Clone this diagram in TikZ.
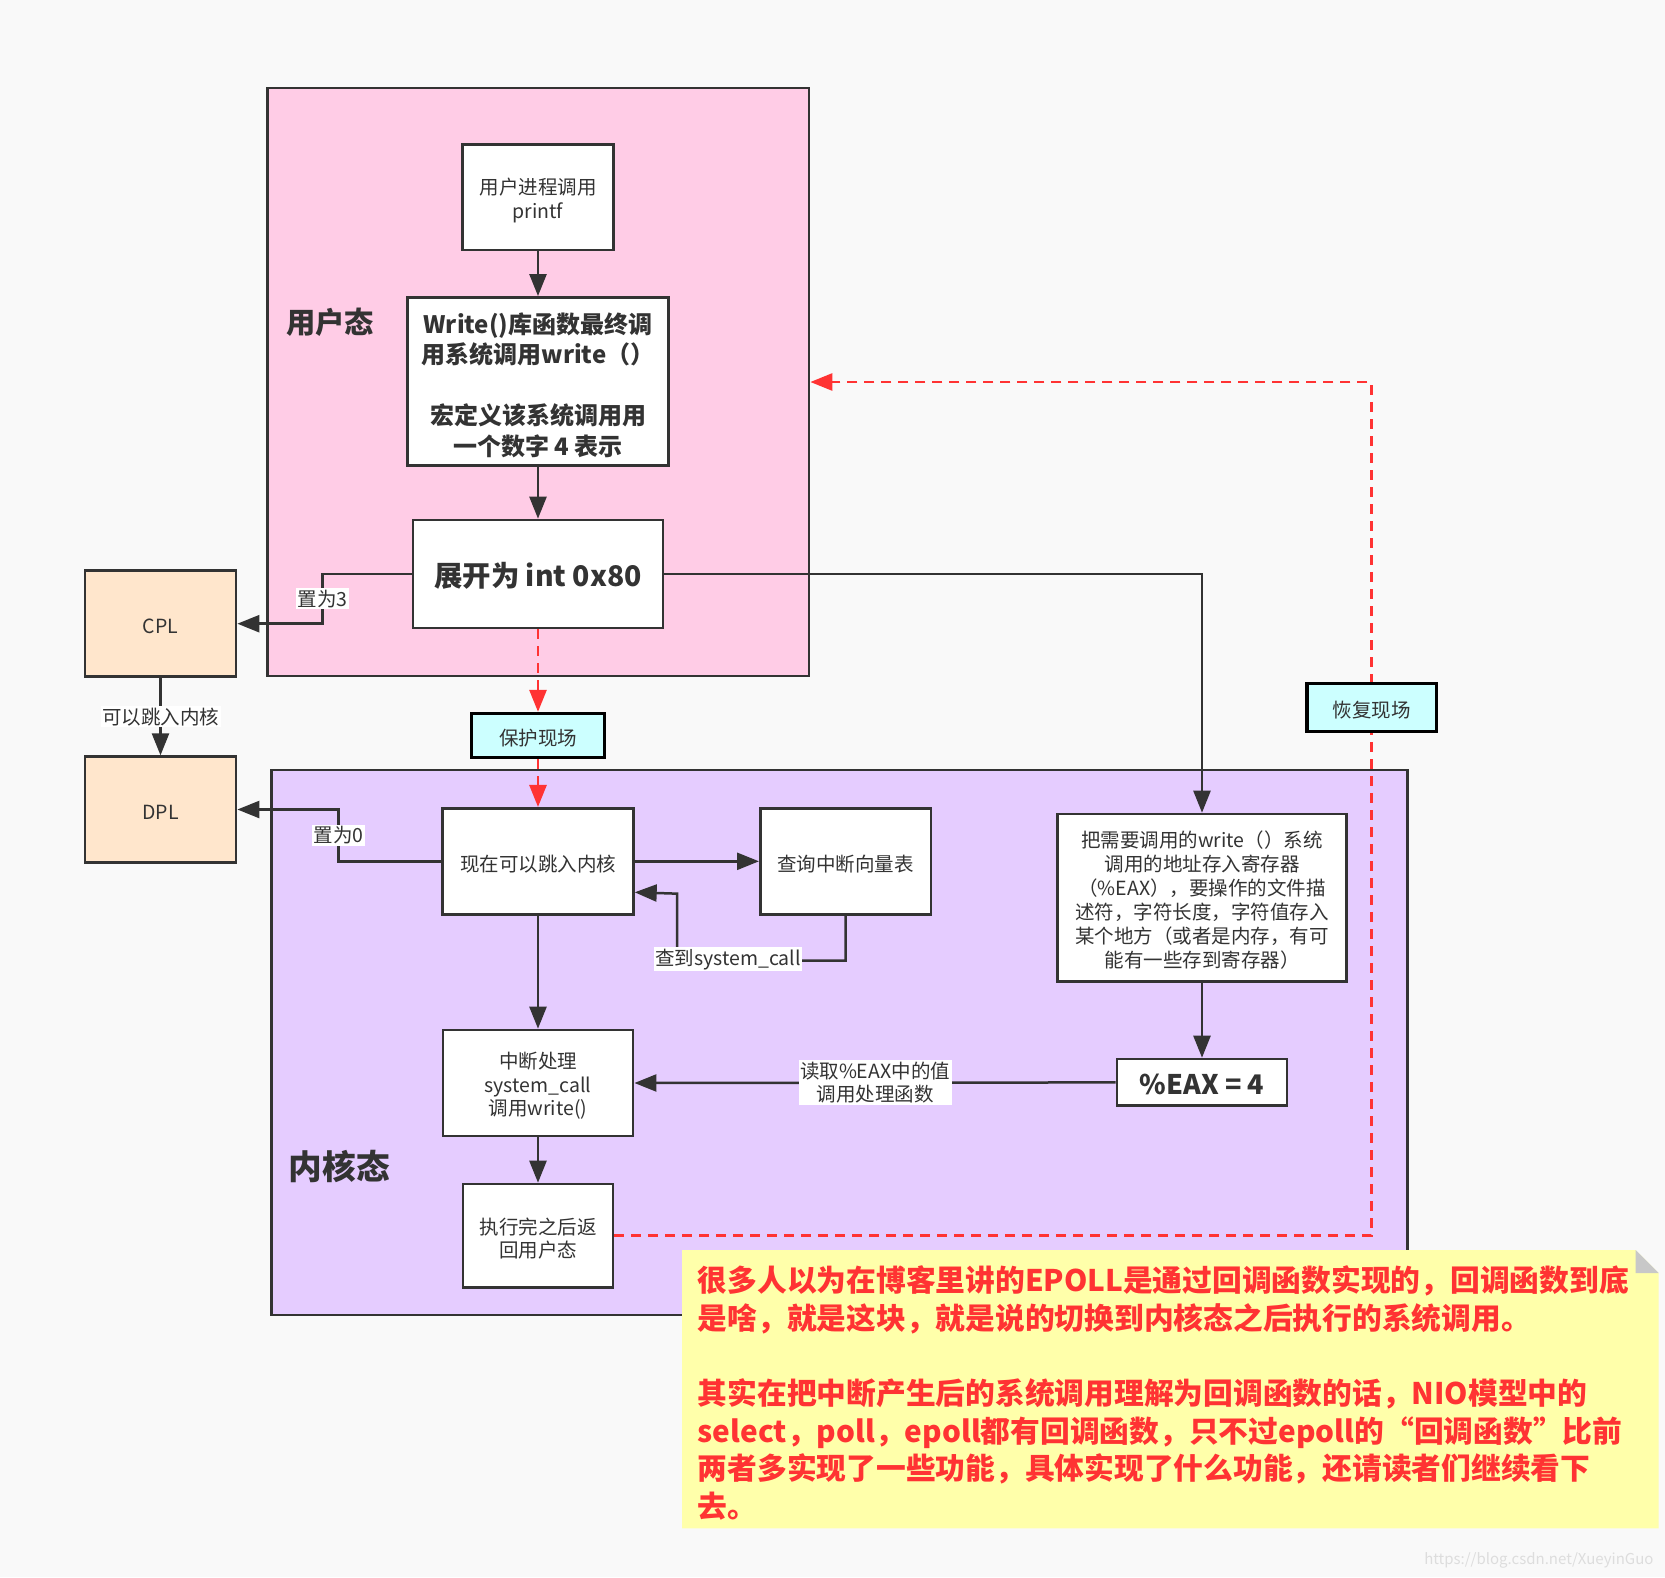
\documentclass[tikz,border=0pt]{standalone}
\usepackage{fontspec}
\setmainfont{Noto Sans CJK SC}
\usetikzlibrary{arrows.meta}
\definecolor{bg}{HTML}{F9F9F9}
\definecolor{ink}{HTML}{333333}
\definecolor{pinkf}{HTML}{FFCCE6}
\definecolor{purplef}{HTML}{E5CCFF}
\definecolor{peach}{HTML}{FFE6CC}
\definecolor{cyanf}{HTML}{CCFFFF}
\definecolor{notef}{HTML}{FFFFAA}
\definecolor{redc}{HTML}{FF3333}
\definecolor{foldc}{HTML}{C8C8C8}
\definecolor{wm}{HTML}{DDDDDD}
\newcommand{\myfs}[2]{\fontsize{#1}{#2}\selectfont}
\newcommand{\tp}[1]{\rule{0pt}{#1em}}
\begin{document}
\begin{tikzpicture}[x=1pt,y=-1pt,
  every node/.style={text=ink},
  box/.style={draw=ink, line width=2.7pt, fill=white, inner sep=0pt, align=center, font=\myfs{19.5}{23.5}},
  one/.style={execute at begin node={\rule[-0.3em]{0pt}{#1em}}},
  one/.default=1.63,
  region/.style={draw=ink, line width=2.7pt, inner sep=0pt},
  tag/.style={draw=black, line width=3.3pt, fill=cyanf, inner sep=0pt, font=\myfs{19.5}{23.5}, one},
  lbl/.style={fill=white, inner sep=1.5pt, font=\myfs{19.5}{23.5}, align=center},
  conn/.style={draw=ink, line width=2.5pt, -{Triangle[length=22pt,width=17pt]}},
  rdash/.style={draw=redc, line width=2.7pt, dash pattern=on 10pt off 7pt, -{Triangle[length=22pt,width=17pt]}}
]
\fill[bg] (0,0) rectangle (1665,1577);
\useasboundingbox (0,0) rectangle (1665,1577);

% regions
\node[region, fill=pinkf, minimum width=541.3pt, minimum height=588pt] (user) at (538.35,382) {};
\node[region, fill=purplef, minimum width=1136pt, minimum height=545pt] (kernel) at (839.7,1042.5) {};
\node[font=\bfseries\myfs{29.3}{34}] (userlbl) at (330,322) {用户态};
\node[font=\bfseries\myfs{33.7}{40}] (kernlbl) at (339.5,1166.7) {内核态};

% boxes
\node[box, minimum width=150.5pt, minimum height=105.7pt] (printf) at (538,197.15) {\tp{1.19}用户进程调用\\printf};
\node[box, minimum width=260.7pt, minimum height=168.4pt, font=\bfseries\myfs{24}{30.5}] (write) at (538,381.6) {\tp{1.17}Write()库函数最终调\\用系统调用write（）\\[30.5pt]宏定义该系统调用用\\一个数字 4 表示};
\node[box, one=1.51, minimum width=250pt, minimum height=108pt, font=\bfseries\myfs{28.4}{34}] (int80) at (538,574) {展开为 int 0x80};
\node[box, one, fill=peach, minimum width=151pt, minimum height=106pt] (cpl) at (160.5,623.7) {CPL};
\node[box, one, fill=peach, minimum width=151pt, minimum height=105.6pt] (dpl) at (160.5,809.5) {DPL};
\node[tag, minimum width=133pt, minimum height=44pt] (protect) at (538,735.5) {保护现场};
\node[box, one, minimum width=190.7pt, minimum height=106pt] (now) at (538,861.3) {现在可以跳入内核};
\node[box, one, minimum width=170.7pt, minimum height=106pt] (query) at (845.7,861.3) {查询中断向量表};
\node[box, minimum width=289.4pt, minimum height=167.7pt, font=\myfs{19.5}{24}] (store) at (1202,897.9) {\tp{1.04}把需要调用的write（）系统\\调用的地址存入寄存器\\（\%EAX），要操作的文件描\\述符，字符长度，字符值存入\\某个地方（或者是内存，有可\\能有一些存到寄存器）};
\node[box, one=1.48, minimum width=170pt, minimum height=46.7pt, font=\bfseries\myfs{27}{32}] (eax) at (1202,1082.4) {\%EAX = 4};
\node[box, minimum width=190.2pt, minimum height=106pt] (handle) at (538,1083) {\tp{1.14}中断处理\\system\_call\\调用write()};
\node[box, minimum width=150pt, minimum height=103.3pt] (back) at (538,1235.7) {\tp{1.14}执行完之后返\\回用户态};
\coordinate (rc) at (1371.5,707.5);

% connectors
\draw[conn] (printf.south) -- (write.north);
\draw[conn] (write.south) -- (int80.north);
\draw[conn] (int80.west) -- ++(-89,0) |- node[lbl,pos=0.25]{置为3} (cpl.east);
\draw[conn] (cpl.south) -- node[lbl]{可以跳入内核} (dpl.north);
\draw[conn] (now.west) -- ++(-102.6,0) |- node[lbl,pos=0.25]{置为0} (dpl.east);
\draw[rdash] (int80.south) -- (protect.north);
\draw[rdash] (protect.south) -- (now.north);
\draw[conn] (now.east) -- (query.west);
\path (now.east) ++(0,31) coordinate (nowin);
\draw[conn] (query.south) -- ++(0,45) -| ++(-168.7,-67) -- (nowin);
\node[lbl] (lq) at (728,959.3) {查到system\_call};
\draw[conn] (int80.east) -| (store.north);
\draw[conn] (store.south) -- (eax.north);
\draw[conn] (eax.west) -- node[lbl]{读取\%EAX中的值\\调用处理函数} (handle.east);
\draw[conn] (now.south) -- (handle.north);
\draw[conn] (handle.south) -- (back.north);
\draw[rdash] (back.east) -| (rc |- user.east) -- (user.east);
\node[tag, minimum width=129.3pt, minimum height=48.4pt] (restore) at (rc) {恢复现场};

% note
\fill[notef] (682,1250) -- (1635.7,1250) -- (1658.7,1273) -- (1658.7,1528.3) -- (682,1528.3) -- cycle;
\fill[foldc] (1635.7,1250) -- (1635.7,1273) -- (1658.7,1273) -- cycle;
\node[anchor=north west, inner sep=0pt, align=left, text=redc, font=\bfseries\myfs{29.75}{37.6}] (note) at (697.6,1265.5) {很多人以为在博客里讲的EPOLL是通过回调函数实现的，回调函数到底\\是啥，就是这块，就是说的切换到内核态之后执行的系统调用。\\[37.6pt]其实在把中断产生后的系统调用理解为回调函数的话，NIO模型中的\\select，poll，epoll都有回调函数，只不过epoll的“回调函数”比前\\两者多实现了一些功能，具体实现了什么功能，还请读者们继续看下\\去。};
\node[text=wm, font=\myfs{15}{18}, anchor=east] (wmk) at (1657,1560) {https://blog.csdn.net/XueyinGuo};
\end{tikzpicture}
\end{document}
